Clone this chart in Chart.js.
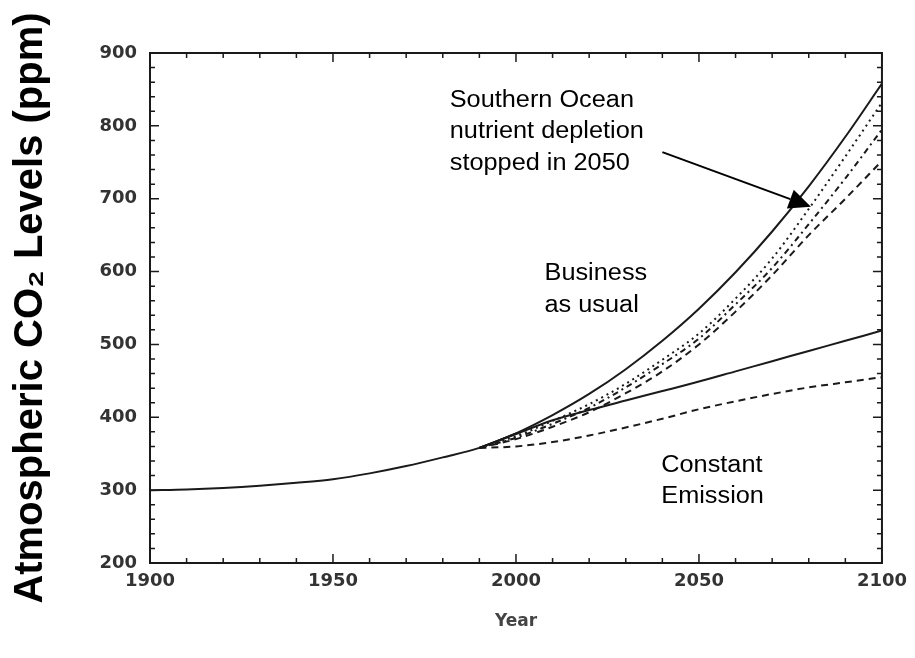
<!DOCTYPE html>
<html>
<head>
<meta charset="utf-8">
<title>Atmospheric CO2 scenarios</title>
<script src="https://cdn.jsdelivr.net/npm/chart.js@4.4.1/dist/chart.umd.min.js"></script>
<style>
  body { margin: 0; background: #fff; }
  #wrap { width: 915px; height: 658px; }
</style>
</head>
<body>
<div id="wrap"><canvas id="co2Chart" width="915" height="658"></canvas></div>
<script>
// years and CO2 values (ppm)
const histYears = [1900, 1910, 1920, 1930, 1940, 1950, 1960, 1970, 1980, 1990, 2000];
const histCO2 = [300, 301, 303, 306, 310, 315, 323, 333, 345, 358, 378];

const futureYears = [1990, 2000, 2010, 2020, 2030, 2040, 2050, 2060, 2070, 2080, 2090, 2100];
const businessAsUsual = [358, 378, 403, 432, 466, 505, 549, 599, 655, 717, 785, 858];
const depletionDotted = [358, 374, 395, 418, 446, 479, 515, 563, 618, 686, 758, 832];
const depletionDashDot = [358, 372, 391, 413, 441, 473, 508, 555, 605, 665, 728, 795];
const depletionDashed = [358, 370, 387, 407, 433, 463, 500, 545, 595, 650, 700, 752];
const constantSolid = [358, 377, 396, 410, 423, 436, 449, 463, 477, 491, 505, 519];
const constantDashed = [358, 360, 366, 375, 386, 398, 411, 422, 432, 441, 448, 455];

const xTicks = [1900, 1950, 2000, 2050, 2100];
const yTicks = [200, 300, 400, 500, 600, 700, 800, 900];

function toPoints(years, vals) {
  return years.map((yr, i) => ({ x: yr, y: vals[i] }));
}

function lineSet(label, years, vals, dash, width) {
  return {
    label: label,
    data: toPoints(years, vals),
    borderColor: '#1a1a1a',
    borderWidth: width || 2,
    borderDash: dash || [],
    pointRadius: 0,
    fill: false,
    cubicInterpolationMode: 'monotone'
  };
}

// frame, inward ticks, annotations
const framePlugin = {
  id: 'frame',
  afterDraw(chart) {
    const ctx = chart.ctx;
    const a = chart.chartArea;
    const xs = chart.scales.x;
    const ys = chart.scales.y;
    ctx.save();
    ctx.strokeStyle = '#1a1a1a';
    ctx.lineWidth = 2;
    ctx.strokeRect(a.left, a.top, a.right - a.left, a.bottom - a.top);

    ctx.lineWidth = 1.5;
    ctx.beginPath();
    for (let yr = xTicks[0]; yr <= xTicks[xTicks.length - 1]; yr += 10) {
      const px = xs.getPixelForValue(yr);
      const len = yr % 50 === 0 ? 9 : 5;
      ctx.moveTo(px, a.bottom); ctx.lineTo(px, a.bottom - len);
      ctx.moveTo(px, a.top); ctx.lineTo(px, a.top + len);
    }
    for (let v = yTicks[0]; v <= yTicks[yTicks.length - 1]; v += 20) {
      const py = ys.getPixelForValue(v);
      const len = v % 100 === 0 ? 9 : 5;
      ctx.moveTo(a.left, py); ctx.lineTo(a.left + len, py);
      ctx.moveTo(a.right, py); ctx.lineTo(a.right - len, py);
    }
    ctx.stroke();

    // text labels
    ctx.fillStyle = '#000';
    ctx.font = '23px "Liberation Sans", Arial, sans-serif';
    ctx.textBaseline = 'alphabetic';
    function label(lines, yr, val) {
      const x = xs.getPixelForValue(yr);
      let y = ys.getPixelForValue(val);
      lines.forEach(t => {
        ctx.save();
        ctx.translate(x, y);
        ctx.scale(1.1, 1);
        ctx.fillText(t, 0, 0);
        ctx.restore();
        y += 31.5;
      });
    }
    label(['Southern Ocean', 'nutrient depletion', 'stopped in 2050'], 1981.9, 826);
    label(['Business', 'as usual'], 2007.8, 588);
    label(['Constant', 'Emission'], 2039.7, 325);

    // arrow
    const x0 = xs.getPixelForValue(2040), y0 = ys.getPixelForValue(764);
    const x1 = xs.getPixelForValue(2080.6), y1 = ys.getPixelForValue(689);
    const ang = Math.atan2(y1 - y0, x1 - x0);
    const head = 22, half = 10;
    const bx = x1 - head * Math.cos(ang), by = y1 - head * Math.sin(ang);
    ctx.strokeStyle = '#000';
    ctx.lineWidth = 2;
    ctx.beginPath();
    ctx.moveTo(x0, y0);
    ctx.lineTo(bx, by);
    ctx.stroke();
    ctx.beginPath();
    ctx.moveTo(x1, y1);
    ctx.lineTo(bx + half * Math.sin(ang), by - half * Math.cos(ang));
    ctx.lineTo(bx - half * Math.sin(ang), by + half * Math.cos(ang));
    ctx.closePath();
    ctx.fill();
    ctx.restore();
  }
};

window.onload = function () {
  const ctx = document.getElementById('co2Chart').getContext('2d');
  new Chart(ctx, {
    type: 'line',
    data: {
      datasets: [
        lineSet('Historical', histYears, histCO2),
        lineSet('Business as usual', futureYears, businessAsUsual),
        lineSet('Depletion stopped (dotted)', futureYears, depletionDotted, [2, 4]),
        lineSet('Depletion stopped (dash-dot)', futureYears, depletionDashDot, [6, 4, 2, 4]),
        lineSet('Depletion stopped (dashed)', futureYears, depletionDashed, [7, 5]),
        lineSet('Constant emission', futureYears, constantSolid),
        lineSet('Constant emission (dashed)', futureYears, constantDashed, [7, 5])
      ]
    },
    options: {
      responsive: false,
      animation: false,
      layout: { padding: { top: 53, right: 32, left: 0, bottom: 0 } },
      plugins: { legend: { display: false }, tooltip: { enabled: false } },
      scales: {
        x: {
          type: 'linear',
          min: xTicks[0],
          max: xTicks[xTicks.length - 1],
          afterFit: s => { s.height = 95; },
          afterBuildTicks: s => { s.ticks = xTicks.map(v => ({ value: v })); },
          grid: { display: false, drawTicks: false },
          border: { display: false },
          ticks: {
            padding: 8,
            color: '#333',
            callback: v => String(v),
            font: { family: '"DejaVu Sans", sans-serif', size: 18, weight: 'bold' }
          },
          title: {
            display: true,
            text: 'Year',
            color: '#444',
            padding: { top: 0, bottom: 26 },
            font: { family: '"DejaVu Sans", sans-serif', size: 17, weight: 'bold' }
          }
        },
        y: {
          min: yTicks[0],
          max: yTicks[yTicks.length - 1],
          afterFit: s => { s.width = 150; },
          afterBuildTicks: s => { s.ticks = yTicks.map(v => ({ value: v })); },
          grid: { display: false, drawTicks: false },
          border: { display: false },
          ticks: {
            padding: 13,
            color: '#333',
            callback: v => String(v),
            font: { family: '"DejaVu Sans", sans-serif', size: 18, weight: 'bold' }
          },
          title: {
            display: true,
            text: 'Atmospheric CO\u2082 Levels (ppm)',
            color: '#000',
            padding: { top: 7, bottom: 0 },
            font: { family: '"Liberation Sans", Arial, sans-serif', size: 40, weight: 'bold', lineHeight: 1.2 }
          }
        }
      }
    },
    plugins: [framePlugin]
  });
};
</script>
</body>
</html>
